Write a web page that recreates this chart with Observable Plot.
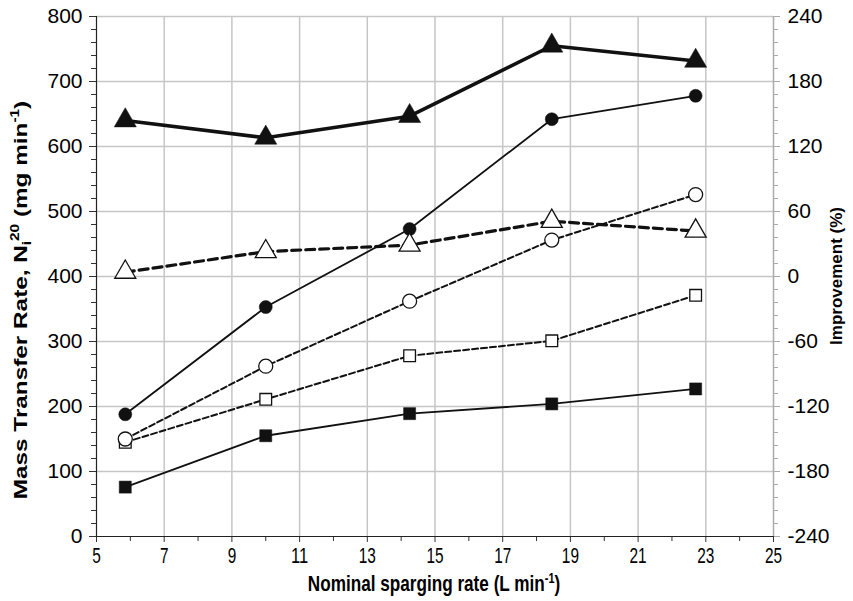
<!DOCTYPE html>
<html>
<head>
<meta charset="utf-8">
<script src="https://cdn.jsdelivr.net/npm/d3@7"></script>
<script src="https://cdn.jsdelivr.net/npm/@observablehq/plot@0.6"></script>
<style>
  html, body { margin: 0; padding: 0; background: #fff; }
  #chart svg { display: block; }
  #chart svg g.ytl text { font-size: 21px !important; }
  #chart svg g.xtl text { font-size: 22px !important; }
</style>
</head>
<body>
<div id="chart"></div>
<script>
// Nominal sparging rate (L min-1)
const sparging = [5.85, 10.0, 14.25, 18.45, 22.7];
// Mass transfer rate (mg min-1), left axis
const massFilledCircle = [188, 353, 473, 642, 678];
const massOpenCircle   = [150, 262, 362, 456, 526];
const massOpenSquare   = [145, 211, 278, 301, 371];
const massFilledSquare = [76, 155, 189, 204, 227];
// Improvement (%), right axis
const impFilledTriangle = [144, 128, 148, 213, 199];
const impOpenTriangle   = [4, 23, 29, 51, 42];

const xTicks = [5, 7, 9, 11, 13, 15, 17, 19, 21, 23, 25];
const xMinorTicks = [6, 8, 10, 12, 14, 16, 18, 20, 22, 24];
const leftTicks = [0, 100, 200, 300, 400, 500, 600, 700, 800];
const rightTicks = [-240, -180, -120, -60, 0, 60, 120, 180, 240];

// map right-axis (improvement) to left-axis units
const impToLeft = v => (v + 240) * 800 / 480;
const leftToImp = v => v * 480 / 800 - 240;

const mk = (ys, conv = d => d) => sparging.map((x, i) => ({x, y: conv(ys[i])}));
const sFC = mk(massFilledCircle);
const sOC = mk(massOpenCircle);
const sOS = mk(massOpenSquare);
const sFS = mk(massFilledSquare);
const sFT = mk(impFilledTriangle, impToLeft);
const sOT = mk(impOpenTriangle, impToLeft);

const grid = "#c6c6c6";
const ink = "#111";
const font = "'Liberation Sans', Arial, sans-serif";

const minorLeft = d3.range(0, 801, 20);

const plot = Plot.plot({
  width: 853,
  height: 601,
  marginLeft: 96,
  marginRight: 80,
  marginTop: 16,
  marginBottom: 65,
  style: {fontFamily: font, fontSize: "21px", background: "#fff", color: "#000"},
  x: {domain: [5, 25]},
  y: {domain: [0, 800]},
  marks: [
    // grid
    Plot.ruleY(leftTicks.filter(d => d > 0), {stroke: grid, strokeWidth: 1.5}),
    Plot.ruleX(xTicks.filter(d => d > 5 && d < 25), {stroke: grid, strokeWidth: 1.5}),
    Plot.ruleX([25], {stroke: "#aaa", strokeWidth: 1.5}),
    // left axis
    Plot.axisY({ticks: minorLeft, tickFormat: () => "", tickSize: 5, stroke: "#333", label: null}),
    Plot.axisY({ticks: leftTicks, tickSize: 7, tickPadding: 7, stroke: "#333", fill: "#000", label: null,
      fontSize: 21, className: "ytl"}),
    // right axis
    Plot.axisY({anchor: "right", ticks: minorLeft, tickFormat: () => "", tickSize: 4, stroke: "#aaa", label: null}),
    Plot.axisY({anchor: "right", ticks: rightTicks.map(impToLeft), tickFormat: d => String(Math.round(leftToImp(d))),
      tickSize: 6, tickPadding: 8, stroke: "#aaa", fill: "#000", label: null, fontSize: 21, className: "ytl"}),
    // x axis
    Plot.axisX({ticks: xMinorTicks, tickFormat: () => "", tickSize: 5, stroke: "#333", label: null}),
    Plot.axisX({ticks: xTicks, tickSize: 6, tickPadding: 5, stroke: "#333", fill: "#000", label: null,
      fontSize: 22, className: "xtl"}),
    Plot.ruleY([0], {stroke: "#222", strokeWidth: 1.2}),
    Plot.ruleX([5], {stroke: "#222", strokeWidth: 1.2}),
    // lines
    Plot.line(sFS, {x: "x", y: "y", stroke: ink, strokeWidth: 1.8}),
    Plot.line(sFC, {x: "x", y: "y", stroke: ink, strokeWidth: 1.8}),
    Plot.line(sOS, {x: "x", y: "y", stroke: ink, strokeWidth: 2, strokeDasharray: "6,3"}),
    Plot.line(sOC, {x: "x", y: "y", stroke: ink, strokeWidth: 2, strokeDasharray: "6,3"}),
    Plot.line(sOT, {x: "x", y: "y", stroke: ink, strokeWidth: 3.2, strokeDasharray: "9,5"}),
    Plot.line(sFT, {x: "x", y: "y", stroke: ink, strokeWidth: 3.5}),
    // markers
    Plot.dot(sFS, {x: "x", y: "y", symbol: "square", r: 6.8, fill: ink, stroke: ink, strokeWidth: 0.5}),
    Plot.dot(sFC, {x: "x", y: "y", symbol: "circle", r: 6.5, fill: ink, stroke: ink, strokeWidth: 0.5}),
    Plot.dot(sOS, {x: "x", y: "y", symbol: "square", r: 6.6, fill: "#fff", stroke: ink, strokeWidth: 1.3}),
    Plot.dot(sOC, {x: "x", y: "y", symbol: "circle", r: 7, fill: "#fff", stroke: ink, strokeWidth: 1.3}),
    Plot.dot(sOT, {x: "x", y: "y", symbol: "triangle", r: 7.8, fill: "#fff", stroke: ink, strokeWidth: 1.3}),
    Plot.dot(sFT, {x: "x", y: "y", symbol: "triangle", r: 8.2, fill: ink, stroke: ink, strokeWidth: 0.5})
  ]
});

const svg = d3.select(plot);

// condense the x tick labels
svg.selectAll("g.xtl text, g[aria-label='x-axis tick label'] text").each(function() {
  const t = this.textContent;
  if (!t) return;
  d3.select(this)
    .attr("textLength", t.length * 0.556 * 22 * 0.7)
    .attr("lengthAdjust", "spacingAndGlyphs");
});

// left axis label
const lt = svg.append("text")
  .attr("transform", "translate(27,300) rotate(-90) scale(1.28,1)")
  .attr("text-anchor", "middle")
  .attr("font-family", font)
  .attr("font-weight", "bold")
  .attr("font-size", 19)
  .attr("fill", "#000");
lt.append("tspan").text("Mass Transfer Rate, N");
lt.append("tspan").attr("font-size", 12).attr("dy", 4).text("i");
lt.append("tspan").attr("font-size", 12).attr("dy", -12).text("20");
lt.append("tspan").attr("dy", 8).text(" (mg min");
lt.append("tspan").attr("font-size", 12).attr("dy", -8).text("-1");
lt.append("tspan").attr("dy", 8).text(")");

// right axis label
svg.append("text")
  .attr("transform", "translate(842,276) rotate(-90)")
  .attr("text-anchor", "middle")
  .attr("font-family", font)
  .attr("font-weight", "bold")
  .attr("font-size", 17)
  .attr("fill", "#000")
  .text("Improvement (%)");

// x axis label
const xt = svg.append("text")
  .attr("transform", "translate(434,591) scale(0.78,1)")
  .attr("text-anchor", "middle")
  .attr("font-family", font)
  .attr("font-weight", "bold")
  .attr("font-size", 22)
  .attr("fill", "#000");
xt.append("tspan").text("Nominal sparging rate (L min");
xt.append("tspan").attr("font-size", 14).attr("dy", -8).text("-1");
xt.append("tspan").attr("dy", 8).text(")");

document.getElementById("chart").appendChild(plot);
</script>
</body>
</html>
